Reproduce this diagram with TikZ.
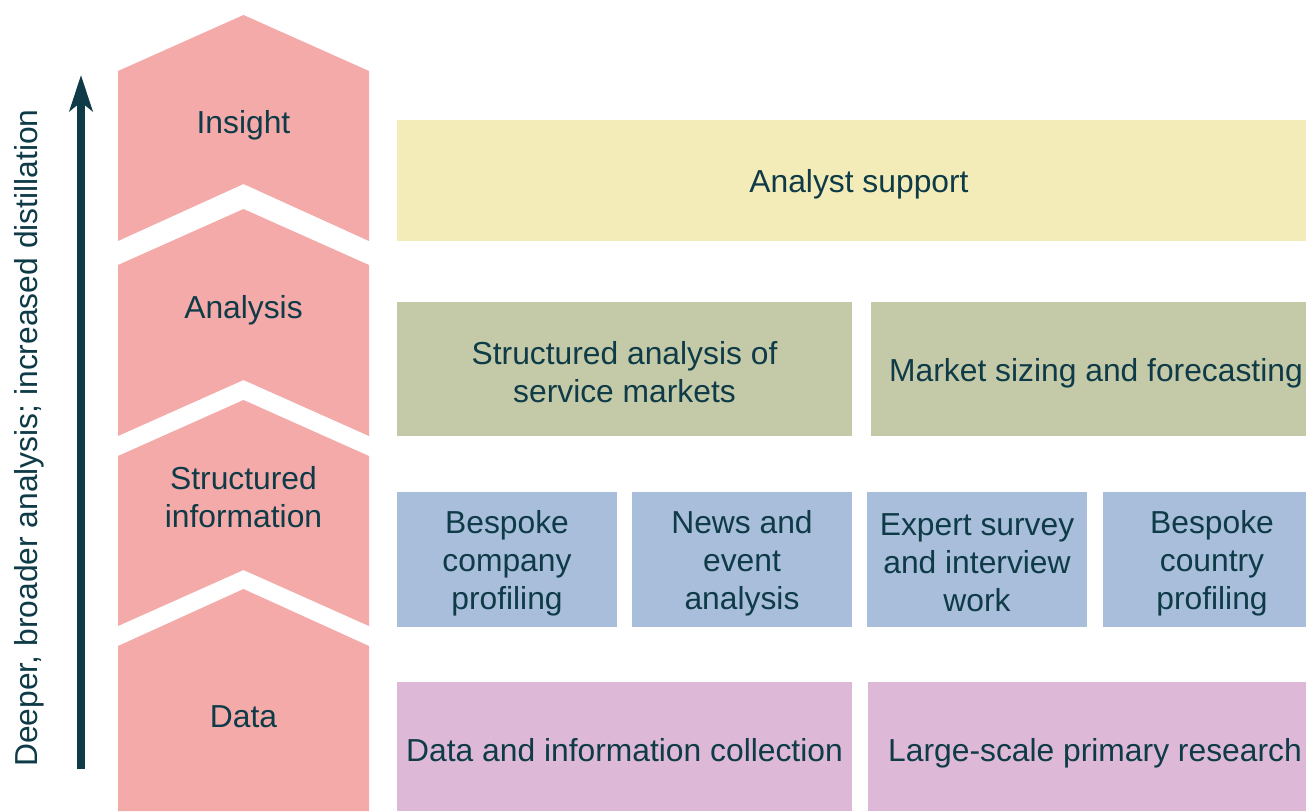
\documentclass[tikz,border=0pt]{standalone}
\usepackage{fontspec}
\setmainfont{Liberation Sans}
\usetikzlibrary{arrows.meta}
\definecolor{txt}{HTML}{0E3B47}
\definecolor{chev}{HTML}{F4AAA9}
\definecolor{yel}{HTML}{F4ECB8}
\definecolor{grn}{HTML}{C4CAA8}
\definecolor{blu}{HTML}{A8BEDB}
\definecolor{lav}{HTML}{DDB9D7}
\tikzset{
  lab/.style={text=txt, font=\fontsize{31.8}{38}\selectfont, align=center, inner sep=0pt},
  chevshape/.style={fill=chev, draw=none}
}
\begin{document}
\begin{tikzpicture}[x=1pt,y=-1pt]
\useasboundingbox (0,0) rectangle (1306,811);
% chevrons
\fill[chevshape] (118,71) -- (243.5,15) -- (369,71) -- (369,241) -- (243.5,184) -- (118,241) -- cycle;
\fill[chevshape] (118,265) -- (243.5,209) -- (369,265) -- (369,436) -- (243.5,380) -- (118,436) -- cycle;
\fill[chevshape] (118,456) -- (243.5,400) -- (369,456) -- (369,626) -- (243.5,570) -- (118,626) -- cycle;
\fill[chevshape] (118,646) -- (243.5,589) -- (369,646) -- (369,811) -- (118,811) -- cycle;
\node[lab] (insight) at (243.5,125.5) {Insight};
\node[lab] (analysis) at (243.5,310.5) {Analysis};
\node[lab] (structured) at (243.5,497.5) {Structured\\information};
\node[lab] (data) at (243.5,717) {Data};
% arrow
\coordinate (abot) at (81,769);
\coordinate (atop) at (81,75);
\draw[txt, line width=8pt, -{Stealth[length=36pt,width=23pt,inset=9pt]}] (abot) -- (atop);
\node[lab, rotate=90] (side) at (29,438) {Deeper, broader analysis; increased distillation};
% right boxes
\path[fill=yel] (397,120) rectangle (1306,241);
\node[lab] (as) at (859,184.5) {Analyst support};
\path[fill=grn] (397,302) rectangle (852,436);
\path[fill=grn] (871,302) rectangle (1306,436);
\node[lab] (sam) at (624.5,372.5) {Structured analysis of\\service markets};
\node[lab] (msf) at (1096,373.5) {Market sizing and forecasting};
\path[fill=blu] (397,492) rectangle (617,627);
\path[fill=blu] (632,492) rectangle (852,627);
\path[fill=blu] (867,492) rectangle (1087,627);
\path[fill=blu] (1103,492) rectangle (1306,627);
\node[lab] (bcp) at (507,563) {Bespoke\\company\\profiling};
\node[lab] (nea) at (742,563) {News and\\event\\analysis};
\node[lab] (esi) at (977,563) {Expert survey\\and interview\\work};
\node[lab] (bco) at (1212,563) {Bespoke\\country\\profiling};
\path[fill=lav] (397,682) rectangle (852,811);
\path[fill=lav] (868,682) rectangle (1306,811);
\node[lab] (dic) at (624.5,750.5) {Data and information collection};
\node[lab] (lpr) at (1095,753.5) {Large-scale primary research};
\end{tikzpicture}
\end{document}
